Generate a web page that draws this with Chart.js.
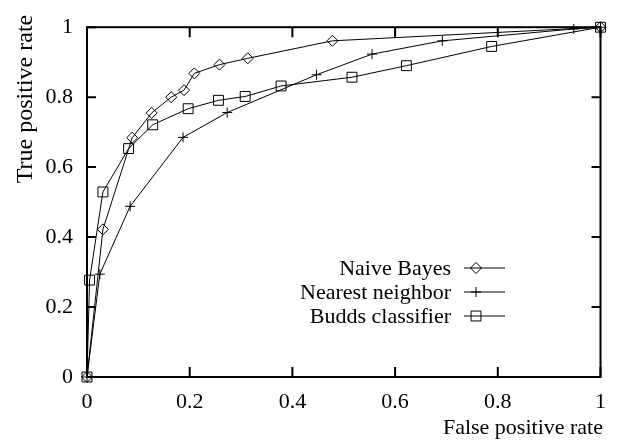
<!DOCTYPE html>
<html>
<head>
<meta charset="utf-8">
<script src="https://cdn.jsdelivr.net/npm/chart.js@4.4.1/dist/chart.umd.min.js"></script>
<style>
  html, body { margin: 0; padding: 0; background: #fff; }
  #wrap { width: 618px; height: 440px; position: relative; }
</style>
</head>
<body>
<div id="wrap"><canvas id="rocChart"></canvas></div>
<script>
// ROC points (false positive rate, true positive rate)
const bayesFpr = [0, 0.031, 0.088, 0.126, 0.164, 0.189, 0.209, 0.258, 0.313, 0.478, 1];
const bayesTpr = [0, 0.422, 0.684, 0.755, 0.800, 0.820, 0.868, 0.893, 0.911, 0.961, 1];

const nnFpr = [0, 0.025, 0.084, 0.187, 0.273, 0.447, 0.555, 0.692, 0.948, 1];
const nnTpr = [0, 0.294, 0.488, 0.685, 0.756, 0.864, 0.923, 0.961, 0.995, 1];

const buddsFpr = [0, 0.005, 0.031, 0.081, 0.128, 0.197, 0.256, 0.308, 0.378, 0.516, 0.622, 0.788, 1];
const buddsTpr = [0, 0.277, 0.529, 0.653, 0.721, 0.767, 0.791, 0.802, 0.832, 0.857, 0.890, 0.945, 1];

const seriesNames = ['Naive Bayes', 'Nearest neighbor', 'Budds classifier'];
const tickValues = [0, 0.2, 0.4, 0.6, 0.8, 1];
const xTitle = 'False positive rate';
const yTitle = 'True positive rate';

const FONT = 'Liberation Serif';

function pairs(xs, ys) {
  return xs.map((x, i) => ({ x: x, y: ys[i] }));
}

function series(label, xs, ys, style, radius) {
  return {
    label: label,
    data: pairs(xs, ys),
    showLine: true,
    clip: false,
    borderColor: '#000',
    borderWidth: 1,
    pointStyle: style,
    pointRadius: radius,
    pointBorderColor: '#000',
    pointBorderWidth: 1,
    pointBackgroundColor: 'rgba(0,0,0,0)',
    tension: 0
  };
}

// gnuplot-ish frame: border, inward ticks on all four sides, axis labels and the key
const framePlugin = {
  id: 'frame',
  afterDatasetsDraw(chart) {
    const ctx = chart.ctx;
    const a = chart.chartArea;
    const xs = chart.scales.x, ys = chart.scales.y;
    ctx.save();
    ctx.strokeStyle = '#000';
    ctx.lineWidth = 2;
    ctx.beginPath();
    tickValues.forEach(v => {
      const px = xs.getPixelForValue(v);
      ctx.moveTo(px, a.bottom); ctx.lineTo(px, a.bottom - 10);
      ctx.moveTo(px, a.top); ctx.lineTo(px, a.top + 10);
      const py = ys.getPixelForValue(v);
      ctx.moveTo(a.left, py); ctx.lineTo(a.left + 9, py);
      ctx.moveTo(a.right, py); ctx.lineTo(a.right - 9, py);
    });
    ctx.stroke();
    ctx.strokeRect(a.left, a.top, a.right - a.left, a.bottom - a.top);

    ctx.fillStyle = '#000';
    ctx.textBaseline = 'middle';

    // axis labels
    ctx.font = '22px "' + FONT + '"';
    ctx.textAlign = 'right';
    ctx.fillText(xTitle, 603, 428);
    ctx.save();
    ctx.font = '24px "' + FONT + '"';
    ctx.translate(26, 99);
    ctx.rotate(-Math.PI / 2);
    ctx.textAlign = 'center';
    ctx.fillText(yTitle, 0, 0);
    ctx.restore();

    // key
    const rows = [268, 292, 316];
    ctx.font = '22px "' + FONT + '"';
    ctx.textAlign = 'right';
    chart.data.datasets.forEach((ds, i) => {
      const y = rows[i];
      ctx.fillStyle = '#000';
      ctx.fillText(ds.label, 451, y + 1);
      ctx.lineWidth = 1;
      ctx.beginPath();
      ctx.moveTo(464, y); ctx.lineTo(505, y);
      ctx.stroke();
      ctx.fillStyle = 'rgba(0,0,0,0)';
      Chart.helpers.drawPoint(ctx, {
        pointStyle: ds.pointStyle,
        radius: ds.pointRadius,
        rotation: 0,
        borderWidth: 1
      }, 476, y);
    });
    ctx.restore();
  }
};

new Chart(document.getElementById('rocChart').getContext('2d'), {
  type: 'scatter',
  data: {
    datasets: [
      series(seriesNames[0], bayesFpr, bayesTpr, 'rectRot', 5.5),
      series(seriesNames[1], nnFpr, nnTpr, 'cross', 5),
      series(seriesNames[2], buddsFpr, buddsTpr, 'rect', 7)
    ]
  },
  options: {
    responsive: true,
    maintainAspectRatio: false,
    animation: false,
    layout: { padding: { top: 13, right: 11, left: 0, bottom: 0 } },
    plugins: {
      legend: { display: false },
      tooltip: { enabled: false }
    },
    scales: {
      x: {
        type: 'linear',
        min: 0,
        max: 1,
        afterBuildTicks: s => { s.ticks = tickValues.map(v => ({ value: v })); },
        afterFit: s => { s.height = 63; },
        ticks: {
          color: '#000',
          padding: 12,
          maxRotation: 0,
          callback: v => String(v),
          font: { family: FONT, size: 22 }
        },
        grid: { display: false, drawTicks: false },
        border: { display: false }
      },
      y: {
        type: 'linear',
        min: 0,
        max: 1,
        afterBuildTicks: s => { s.ticks = tickValues.map(v => ({ value: v })); },
        afterFit: s => { s.width = 87; },
        ticks: {
          color: '#000',
          padding: 14,
          callback: v => String(v),
          font: { family: FONT, size: 22 }
        },
        grid: { display: false, drawTicks: false },
        border: { display: false }
      }
    }
  },
  plugins: [framePlugin]
});
</script>
</body>
</html>
